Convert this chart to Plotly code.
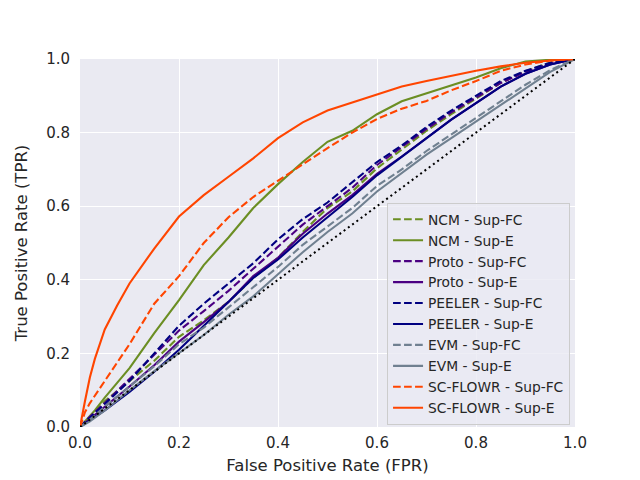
#!/usr/bin/python3 -u

import plotly.graph_objs as go

# false positive rates (shared by the clustered curves)
fpr = [0, 0.02, 0.05, 0.1, 0.15, 0.2, 0.25, 0.3, 0.35, 0.4, 0.45, 0.5,
       0.55, 0.6, 0.65, 0.7, 0.75, 0.8, 0.85, 0.9, 0.95, 1.0]
# finer grid near the origin for the steep curves
fpr_fine = [0, 0.005, 0.01, 0.02, 0.03, 0.05, 0.075, 0.1, 0.15, 0.2, 0.25, 0.3,
            0.35, 0.4, 0.45, 0.5, 0.55, 0.6, 0.65, 0.7, 0.75, 0.8, 0.85, 0.9, 0.95, 1.0]

ncm_fc = [0, 0.025, 0.07, 0.125, 0.18, 0.245, 0.29, 0.34, 0.405, 0.46, 0.53, 0.595,
          0.64, 0.703, 0.755, 0.805, 0.85, 0.893, 0.935, 0.967, 0.99, 1.0]
ncm_e = [0, 0.007, 0.015, 0.03, 0.045, 0.08, 0.12, 0.16, 0.255, 0.345, 0.44, 0.515,
         0.595, 0.66, 0.72, 0.775, 0.805, 0.85, 0.885, 0.907, 0.93, 0.95, 0.975, 0.993, 0.998, 1.0]
proto_fc = [0, 0.028, 0.065, 0.13, 0.195, 0.262, 0.315, 0.37, 0.43, 0.49, 0.55, 0.60,
            0.65, 0.712, 0.76, 0.81, 0.855, 0.895, 0.935, 0.965, 0.988, 1.0]
proto_e = [0, 0.022, 0.055, 0.11, 0.168, 0.232, 0.285, 0.34, 0.41, 0.46, 0.525, 0.58,
           0.63, 0.688, 0.735, 0.785, 0.835, 0.88, 0.925, 0.96, 0.985, 1.0]
peeler_fc = [0, 0.025, 0.06, 0.125, 0.2, 0.275, 0.335, 0.39, 0.445, 0.51, 0.565, 0.61,
             0.665, 0.72, 0.765, 0.815, 0.86, 0.9, 0.94, 0.968, 0.99, 1.0]
peeler_e = [0, 0.018, 0.045, 0.095, 0.15, 0.21, 0.275, 0.34, 0.405, 0.455, 0.515, 0.57,
            0.625, 0.684, 0.735, 0.785, 0.835, 0.88, 0.925, 0.96, 0.985, 1.0]
evm_fc = [0, 0.02, 0.055, 0.11, 0.165, 0.225, 0.27, 0.325, 0.38, 0.435, 0.495, 0.545,
          0.595, 0.655, 0.70, 0.75, 0.795, 0.84, 0.885, 0.93, 0.97, 1.0]
evm_e = [0, 0.015, 0.045, 0.1, 0.152, 0.2, 0.25, 0.305, 0.355, 0.415, 0.475, 0.53,
         0.58, 0.64, 0.69, 0.74, 0.785, 0.83, 0.875, 0.92, 0.965, 1.0]
scflowr_fc = [0, 0.02, 0.04, 0.065, 0.085, 0.128, 0.175, 0.225, 0.335, 0.41, 0.50, 0.57,
              0.625, 0.67, 0.715, 0.758, 0.80, 0.837, 0.865, 0.886, 0.915, 0.94, 0.968, 0.985, 0.996, 1.0]
scflowr_e = [0, 0.04, 0.07, 0.135, 0.185, 0.265, 0.33, 0.39, 0.485, 0.572, 0.63, 0.68,
             0.73, 0.785, 0.828, 0.86, 0.882, 0.905, 0.925, 0.94, 0.955, 0.968, 0.98, 0.99, 0.996, 1.0]

names = ["NCM - Sup-FC", "NCM - Sup-E", "Proto - Sup-FC", "Proto - Sup-E",
         "PEELER - Sup-FC", "PEELER - Sup-E", "EVM - Sup-FC", "EVM - Sup-E",
         "SC-FLOWR - Sup-FC", "SC-FLOWR - Sup-E"]

DASHED = "7.7px,3.3px"
TEXT = "#262626"


def make_traces():
    series = [
        (fpr, ncm_fc, "#6b8e23", DASHED),
        (fpr_fine, ncm_e, "#6b8e23", "solid"),
        (fpr, proto_fc, "#4b0082", DASHED),
        (fpr, proto_e, "#4b0082", "solid"),
        (fpr, peeler_fc, "#000080", DASHED),
        (fpr, peeler_e, "#000080", "solid"),
        (fpr, evm_fc, "#708090", DASHED),
        (fpr, evm_e, "#708090", "solid"),
        (fpr_fine, scflowr_fc, "#ff4500", DASHED),
        (fpr_fine, scflowr_e, "#ff4500", "solid"),
    ]
    traces = []
    for name, (xs, ys, color, dash) in zip(names, series):
        traces.append(go.Scatter(x=xs, y=ys, mode="lines", name=name,
                                 line=dict(color=color, width=2.1, dash=dash)))
    # chance line
    traces.append(go.Scatter(x=[0, 1], y=[0, 1], mode="lines", showlegend=False,
                             line=dict(color="black", width=2, dash="2px,3.3px")))
    return traces


def main():
    fig = go.Figure(data=make_traces())

    axis = dict(range=[0, 1], dtick=0.2, tickformat=".1f", showgrid=True,
                gridcolor="white", gridwidth=1.4, zeroline=False, showline=False,
                tickfont=dict(size=15, color=TEXT), automargin=False)

    # the page body adds an 8px offset, so margins are shifted to compensate
    fig.update_layout(
        width=640, height=480,
        margin=dict(l=72, r=73, t=51, b=61),
        paper_bgcolor="white", plot_bgcolor="#eaeaf2",
        font=dict(family="DejaVu Sans", color=TEXT),
        xaxis=dict(axis, ticks="outside", ticklen=2, tickcolor="rgba(0,0,0,0)",
                   title=dict(text="False Positive Rate (FPR)",
                              font=dict(size=16.5, color=TEXT), standoff=8)),
        yaxis=dict(axis, ticks="outside", ticklen=6, tickcolor="rgba(0,0,0,0)",
                   title=dict(text="True Positive Rate (TPR)",
                              font=dict(size=16.5, color=TEXT), standoff=14)),
        legend=dict(x=0.99, y=0.006, xanchor="right", yanchor="bottom",
                    bgcolor="rgba(234,234,242,0.8)", bordercolor="#cccccc",
                    borderwidth=1, font=dict(size=13.8, color=TEXT),
                    itemwidth=30, tracegroupgap=0),
    )

    fig.write_html("out.html")


if __name__ == '__main__':
    main()
